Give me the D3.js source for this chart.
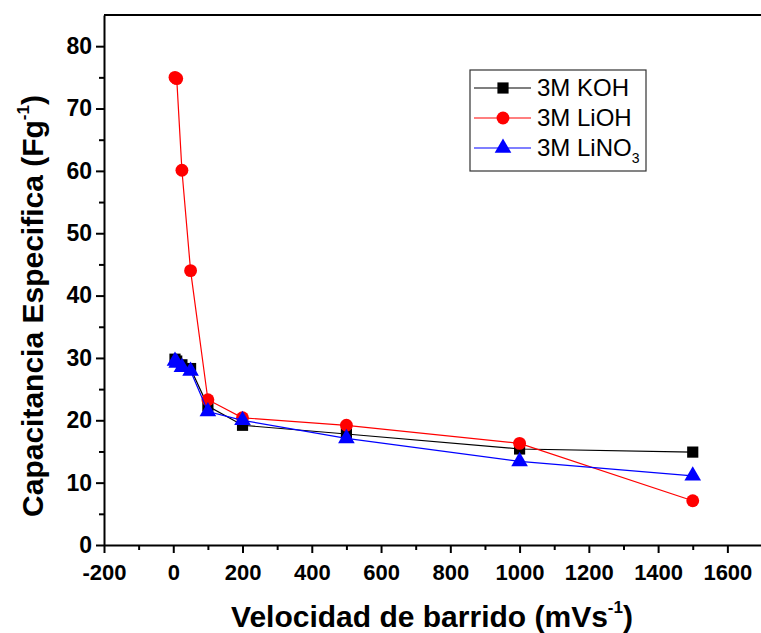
<!DOCTYPE html>
<html>
<head>
<meta charset="utf-8">
<script src="https://cdn.jsdelivr.net/npm/d3@7"></script>
<style>
  html, body { margin: 0; padding: 0; background: #fff; }
  svg { display: block; font-family: Arial, "Liberation Sans", sans-serif; }
</style>
</head>
<body>
<svg id="chart" width="761" height="633"></svg>
<script>
// Scan rates (mV/s) and specific capacitance (F/g) for each electrolyte
const scanKOH   = [5, 10, 25, 50, 100, 200, 500, 1000, 1500];
const capKOH    = [29.8, 29.5, 28.9, 28.3, 22.3, 19.2, 17.8, 15.4, 14.9];
const scanLiOH  = [5, 10, 25, 50, 100, 200, 500, 1000, 1500];
const capLiOH   = [75.0, 74.8, 60.1, 44.0, 23.3, 20.4, 19.2, 16.3, 7.1];
const scanLiNO3 = [5, 10, 25, 50, 100, 200, 500, 1000, 1500];
const capLiNO3  = [29.5, 29.2, 28.5, 27.9, 21.4, 20.0, 17.1, 13.4, 11.1];

const xTicks = [-200, 0, 200, 400, 600, 800, 1000, 1200, 1400, 1600];
const yTicks = [0, 10, 20, 30, 40, 50, 60, 70, 80];

const series = [
  { name: "KOH",  xs: scanKOH,   ys: capKOH,   color: "#000000", symbol: d3.symbolSquare,   size: 125 },
  { name: "LiOH", xs: scanLiOH,  ys: capLiOH,  color: "#ff0000", symbol: d3.symbolCircle,   size: 130 },
  { name: "LiNO3",xs: scanLiNO3, ys: capLiNO3, color: "#0000ff", symbol: d3.symbolTriangle, size: 120 }
];

const svg = d3.select("#chart");
const plotLeft = 104, plotRight = 762, plotTop = 15, plotBottom = 545;

const x = d3.scaleLinear().domain([-200, 1700]).range([plotLeft, plotRight]);
const y = d3.scaleLinear().domain([0, 85]).range([plotBottom, plotTop]);

// Top frame line
svg.append("line")
  .attr("x1", plotLeft).attr("x2", 761).attr("y1", plotTop).attr("y2", plotTop)
  .attr("stroke", "#000").attr("stroke-width", 2);

// X axis: major ticks every 200, minor ticks every 100
const xMinor = d3.range(-100, 1700, 200);
svg.append("g")
  .attr("transform", `translate(0,${plotBottom})`)
  .call(d3.axisBottom(x).tickValues(xMinor).tickSize(5).tickFormat(""))
  .call(g => g.select(".domain").remove())
  .call(g => g.selectAll("line").attr("stroke-width", 2));

const gx = svg.append("g")
  .attr("transform", `translate(0,${plotBottom})`)
  .call(d3.axisBottom(x).tickValues(xTicks).tickSize(8).tickPadding(11).tickSizeOuter(0).tickFormat(d => String(d)));
gx.select(".domain").attr("stroke-width", 2);
gx.selectAll("line").attr("stroke-width", 2);
gx.selectAll("text")
  .attr("font-size", 22).attr("font-weight", "bold")
  .attr("font-family", "Arial, 'Liberation Sans', sans-serif").attr("fill", "#000");

// Y axis: major ticks every 10, minor ticks every 5
const yMinor = d3.range(5, 85, 10);
svg.append("g")
  .attr("transform", `translate(${plotLeft},0)`)
  .call(d3.axisLeft(y).tickValues(yMinor).tickSize(5).tickFormat(""))
  .call(g => g.select(".domain").remove())
  .call(g => g.selectAll("line").attr("stroke-width", 2));

const gy = svg.append("g")
  .attr("transform", `translate(${plotLeft},0)`)
  .call(d3.axisLeft(y).tickValues(yTicks).tickSize(8).tickPadding(4).tickSizeOuter(0).tickFormat(d => String(d)));
gy.select(".domain").attr("stroke-width", 2);
gy.selectAll("line").attr("stroke-width", 2);
gy.selectAll("text")
  .attr("font-size", 23).attr("font-weight", "bold")
  .attr("font-family", "Arial, 'Liberation Sans', sans-serif").attr("fill", "#000");

// Series lines and markers
const line = d3.line().x(d => x(d[0])).y(d => y(d[1]));
series.forEach(s => {
  const pts = s.xs.map((v, i) => [v, s.ys[i]]);
  svg.append("path")
    .datum(pts)
    .attr("d", line)
    .attr("fill", "none")
    .attr("stroke", s.color)
    .attr("stroke-width", 1.2);
  svg.append("g").selectAll("path")
    .data(pts)
    .join("path")
    .attr("transform", d => `translate(${x(d[0])},${y(d[1])})`)
    .attr("d", d3.symbol().type(s.symbol).size(s.size))
    .attr("fill", s.color);
});

// Legend
const lg = svg.append("g");
lg.append("rect")
  .attr("x", 470).attr("y", 70).attr("width", 176).attr("height", 101)
  .attr("fill", "#fff").attr("stroke", "#333").attr("stroke-width", 1.2);
const legendLabels = ["3M KOH", "3M LiOH", "3M LiNO"];
series.forEach((s, i) => {
  const cy = 88 + i * 30;
  lg.append("line")
    .attr("x1", 474).attr("x2", 531).attr("y1", cy).attr("y2", cy)
    .attr("stroke", s.color).attr("stroke-width", 1.2);
  lg.append("path")
    .attr("transform", `translate(503,${cy})`)
    .attr("d", d3.symbol().type(s.symbol).size(s.size))
    .attr("fill", s.color);
  const t = lg.append("text")
    .attr("x", 537).attr("y", cy + 8)
    .attr("font-size", 24).attr("fill", "#000")
    .text(legendLabels[i]);
  if (i === 2) {
    t.append("tspan").attr("font-size", 14).attr("dy", 7).text("3");
  }
});

// Axis titles
const xt = svg.append("text")
  .attr("transform", "translate(432,627)")
  .attr("text-anchor", "middle")
  .attr("font-size", 30).attr("font-weight", "bold").attr("fill", "#000");
xt.append("tspan").text("Velocidad de barrido (mVs");
xt.append("tspan").attr("font-size", 17).attr("dy", -14).text("-1");
xt.append("tspan").attr("dy", 14).text(")");

const yt = svg.append("text")
  .attr("transform", "translate(43,306) rotate(-90)")
  .attr("text-anchor", "middle")
  .attr("font-size", 30).attr("font-weight", "bold").attr("fill", "#000");
yt.append("tspan").text("Capacitancia Especifica (Fg");
yt.append("tspan").attr("font-size", 17).attr("dy", -14).text("-1");
yt.append("tspan").attr("dy", 14).text(")");
</script>
</body>
</html>
